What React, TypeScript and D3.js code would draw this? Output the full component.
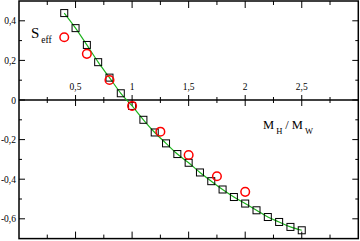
import React from "react";
import * as d3 from "d3";

// squares (green line goes through them)
const massRatio = [0.4, 0.5, 0.6, 0.7, 0.8, 0.9, 1.0, 1.1, 1.2, 1.3, 1.4, 1.5, 1.6, 1.7, 1.8, 1.9, 2.0, 2.1, 2.2, 2.3, 2.4, 2.5];
const sEffSquares = [0.439, 0.363, 0.278, 0.191, 0.113, 0.034, -0.03, -0.1, -0.164, -0.219, -0.273, -0.317, -0.366, -0.41, -0.452, -0.49, -0.523, -0.557, -0.591, -0.616, -0.641, -0.658];

// red circles
const circleRatio = [0.4, 0.6, 0.8, 1.0, 1.25, 1.5, 1.75, 2.0];
const sEffCircles = [0.317, 0.233, 0.101, -0.03, -0.16, -0.278, -0.385, -0.464];

const xMajor = [0.5, 1, 1.5, 2, 2.5];
const xMajorLabels = ["0,5", "1", "1,5", "2", "2,5"];
const xMinor = [0.25, 0.75, 1.25, 1.75, 2.25, 2.75];
const yMajor = [0.4, 0.2, 0, -0.2, -0.4, -0.6];
const yMajorLabels = ["0,4", "0,2", "0", "-0,2", "-0,4", "-0,6"];
const yMinor = [0.3, 0.1, -0.1, -0.3, -0.5];

const W = 360;
const H = 241;

export default function App() {
  const x = d3.scaleLinear().domain([0, 3]).range([19, 358.3]);
  const y = d3.scaleLinear().domain([0.5, -0.7]).range([1, 238.6]);

  const line = d3
    .line<number>()
    .x((d, i) => x(massRatio[i]))
    .y((d) => y(d))
    .curve(d3.curveMonotoneX);

  const font = "'Liberation Serif', 'DejaVu Serif', serif";
  const x0 = x.range()[0];
  const x1 = x.range()[1];
  const yt = y.range()[0];
  const yb = y.range()[1];

  return (
    <svg
      width={W}
      height={H}
      style={{ position: "absolute", left: 0, top: 0, background: "#fff" }}
      fontFamily={font}
    >
      {/* x ticks, top, bottom and on the zero line */}
      {xMajor.map((v) => (
        <g key={"xM" + v} stroke="#000" strokeWidth={1}>
          <line x1={x(v)} x2={x(v)} y1={yt} y2={yt + 7} />
          <line x1={x(v)} x2={x(v)} y1={yb} y2={yb - 7} />
          <line x1={x(v)} x2={x(v)} y1={y(0) - 5} y2={y(0) + 6} />
        </g>
      ))}
      {xMinor.map((v) => (
        <g key={"xm" + v} stroke="#000" strokeWidth={1}>
          <line x1={x(v)} x2={x(v)} y1={yt} y2={yt + 4} />
          <line x1={x(v)} x2={x(v)} y1={yb} y2={yb - 4} />
          <line x1={x(v)} x2={x(v)} y1={y(0) - 3} y2={y(0) + 3} />
        </g>
      ))}
      {/* y ticks, left and right */}
      {yMajor.map((v) => (
        <g key={"yM" + v} stroke="#000" strokeWidth={1}>
          <line x1={x0} x2={x0 + 6} y1={y(v)} y2={y(v)} />
          <line x1={x1} x2={x1 - 6} y1={y(v)} y2={y(v)} />
        </g>
      ))}
      {yMinor.map((v) => (
        <g key={"ym" + v} stroke="#000" strokeWidth={1}>
          <line x1={x0} x2={x0 + 3} y1={y(v)} y2={y(v)} />
          <line x1={x1} x2={x1 - 3} y1={y(v)} y2={y(v)} />
        </g>
      ))}

      {/* zero line */}
      <line x1={x0} x2={x1} y1={y(0)} y2={y(0)} stroke="#000" strokeWidth={1.5} />

      {/* frame */}
      <rect x={x0} y={yt} width={x1 - x0} height={yb - yt} fill="none" stroke="#000" strokeWidth={1.5} />

      {/* tick labels */}
      {xMajor.map((v, i) => (
        <text key={"xl" + v} x={x(v)} y={y(0) - 10} fontSize={9.5} textAnchor="middle" fill="#000">
          {xMajorLabels[i]}
        </text>
      ))}
      {yMajor.map((v, i) => (
        <text key={"yl" + v} x={x0 - 3} y={y(v) + 3.5} fontSize={9.5} textAnchor="end" fill="#000">
          {yMajorLabels[i]}
        </text>
      ))}

      {/* series */}
      <path d={line(sEffSquares) || ""} fill="none" stroke="#1db21d" strokeWidth={1.2} />
      {sEffSquares.map((v, i) => (
        <rect
          key={"sq" + i}
          x={x(massRatio[i]) - 3.5}
          y={y(v) - 3.5}
          width={7}
          height={7}
          fill="none"
          stroke="#000"
          strokeWidth={1}
        />
      ))}
      {sEffCircles.map((v, i) => (
        <circle
          key={"c" + i}
          cx={x(circleRatio[i])}
          cy={y(v)}
          r={4.3}
          fill="none"
          stroke="#ff0000"
          strokeWidth={1.5}
        />
      ))}

      {/* axis titles */}
      <text x={31} y={37.5} fontSize={15} fill="#000">
        S<tspan fontSize={9.5} dx={2} dy={5}>eff</tspan>
      </text>
      <text x={263} y={128.5} fontSize={12.5} fill="#000">
        M<tspan fontSize={8.5} dx={2} dy={5}>H</tspan>
        <tspan dx={3} dy={-5}>/ M</tspan>
        <tspan fontSize={8.5} dx={2} dy={5}>W</tspan>
      </text>
    </svg>
  );
}
